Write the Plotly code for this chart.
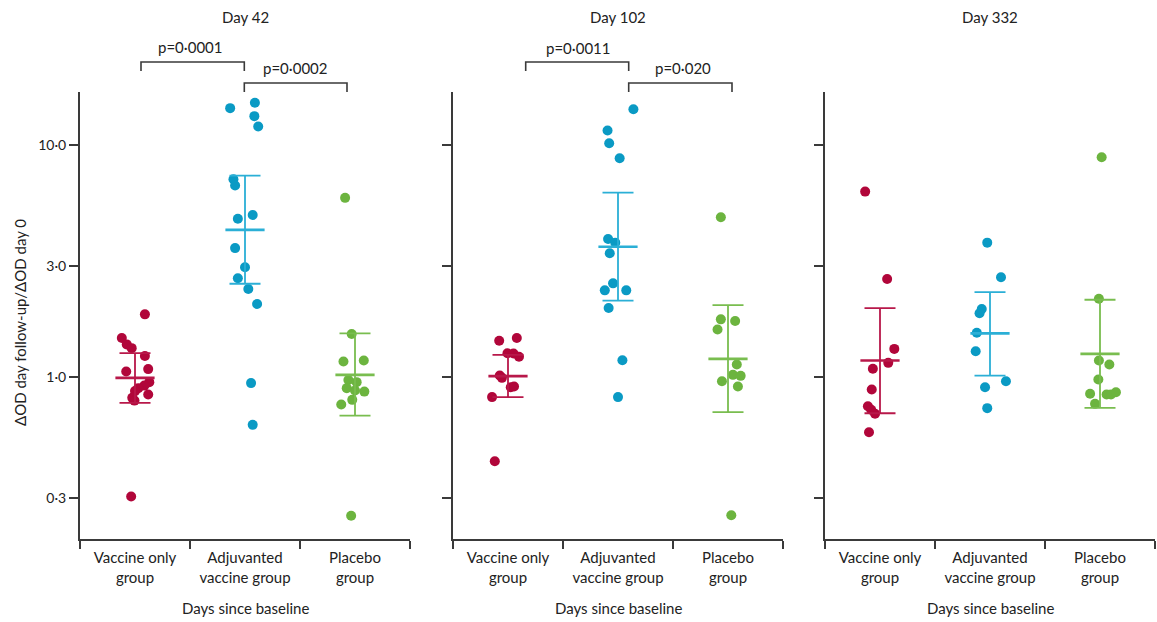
import math
import plotly.graph_objects as go

W, H = 1157, 622

categories = ["Vaccine only<br>group", "Adjuvanted<br>vaccine group", "Placebo<br>group"]
panel_titles = ["Day 42", "Day 102", "Day 332"]
y_tickvals = [0.3, 1.0, 3.0, 10.0]
y_ticktext = ["0·3", "1·0", "3·0", "10·0"]

# ---- Day 42 ----
d42_vaccine = [1.86, 1.47, 1.38, 1.33, 1.23, 1.054, 1.08, 0.949, 0.917, 0.894, 0.868, 0.839, 0.812, 0.79, 0.305]
d42_vaccine_jit = [0.09, -0.12, -0.075, -0.03, 0.09, -0.08, 0.12, 0.13, 0.085, 0.03, 0.0, 0.12, -0.025, -0.005, -0.035]
d42_adjuv = [14.4, 15.2, 13.3, 12.0, 7.11, 6.68, 4.99, 4.80, 3.59, 2.97, 2.66, 2.39, 2.06, 0.94, 0.621]
d42_adjuv_jit = [-0.135, 0.09, 0.085, 0.12, -0.105, -0.09, 0.07, -0.065, -0.09, 0.0, -0.065, 0.03, 0.11, 0.055, 0.07]
d42_placebo = [5.91, 1.53, 1.164, 1.176, 0.97, 0.949, 0.894, 0.873, 0.864, 0.796, 0.760, 0.252]
d42_placebo_jit = [-0.09, -0.03, -0.105, 0.08, -0.06, 0.015, -0.075, 0.0, 0.085, -0.025, -0.125, -0.035]
d42_mean = [0.99, 4.30, 1.02]
d42_low = [0.773, 2.52, 0.681]
d42_high = [1.265, 7.37, 1.54]

# ---- Day 102 ----
d102_vaccine = [1.43, 1.47, 1.265, 1.26, 1.22, 1.013, 0.99, 0.902, 0.908, 0.818, 0.433]
d102_vaccine_jit = [-0.08, 0.08, -0.005, 0.05, 0.10, -0.075, -0.055, 0.025, 0.055, -0.145, -0.12]
d102_adjuv = [14.25, 11.53, 10.17, 8.76, 3.93, 3.79, 3.41, 2.53, 2.36, 2.36, 1.98, 1.18, 0.818]
d102_adjuv_jit = [0.14, -0.095, -0.08, 0.015, -0.09, -0.025, -0.075, -0.045, -0.12, 0.075, -0.085, 0.04, 0.0]
d102_placebo = [4.88, 1.77, 1.74, 1.60, 1.13, 1.02, 1.01, 0.958, 0.908, 0.253]
d102_placebo_jit = [-0.065, -0.065, 0.065, -0.095, 0.08, 0.045, 0.115, -0.055, 0.09, 0.03]
d102_mean = [1.007, 3.64, 1.195]
d102_low = [0.818, 2.13, 0.704]
d102_high = [1.244, 6.23, 2.04]

# ---- Day 332 ----
d332_vaccine = [6.29, 2.64, 1.32, 1.149, 1.083, 0.882, 0.747, 0.721, 0.693, 0.577]
d332_vaccine_jit = [-0.135, 0.065, 0.13, 0.075, -0.065, -0.075, -0.11, -0.08, -0.045, -0.10]
d332_adjuv = [3.79, 2.69, 1.96, 1.88, 1.55, 1.29, 0.958, 0.902, 0.733]
d332_adjuv_jit = [-0.025, 0.10, -0.075, -0.095, -0.12, -0.13, 0.145, -0.045, -0.025]
d332_placebo = [8.85, 2.17, 1.176, 1.13, 0.974, 0.845, 0.839, 0.839, 0.859, 0.765]
d332_placebo_jit = [0.015, -0.01, -0.01, 0.085, -0.015, -0.09, 0.06, 0.10, 0.145, -0.045]
d332_mean = [1.176, 1.54, 1.256]
d332_low = [0.697, 1.013, 0.735]
d332_high = [1.98, 2.32, 2.15]

p_values = [["p=0·0001", "p=0·0002"], ["p=0·0011", "p=0·020"], []]

# ---- styling ----
FONT = "Lato"
TXT = "#222222"
AX = "#3a3a3a"
dot_colors = ["#b1063a", "#0a9ac4", "#6cb43f"]
bar_colors = ["#b8184a", "#2bafd6", "#79bd4f"]

panels = [
    ([d42_vaccine, d42_adjuv, d42_placebo], [d42_vaccine_jit, d42_adjuv_jit, d42_placebo_jit], d42_mean, d42_low, d42_high),
    ([d102_vaccine, d102_adjuv, d102_placebo], [d102_vaccine_jit, d102_adjuv_jit, d102_placebo_jit], d102_mean, d102_low, d102_high),
    ([d332_vaccine, d332_adjuv, d332_placebo], [d332_vaccine_jit, d332_adjuv_jit, d332_placebo_jit], d332_mean, d332_low, d332_high),
]

# pixel layout of the panels
x_px = [(80, 410), (453, 783), (825, 1155)]
y_px = (92, 539)

def px(xp):
    return xp / W

def py(yp):
    return 1 - yp / H

fig = go.Figure()

for p, (groups, jits, means, lows, highs) in enumerate(panels):
    sfx = "" if p == 0 else str(p + 1)
    xa, ya = "x" + sfx, "y" + sfx
    for g in range(3):
        fig.add_trace(go.Scatter(
            x=[g + 0.5 + j for j in jits[g]], y=groups[g], mode="markers",
            marker=dict(size=10, color=dot_colors[g], line=dict(width=0)),
            xaxis=xa, yaxis=ya, showlegend=False, hoverinfo="y"))
    for g in range(3):
        fig.add_trace(go.Scatter(
            x=[g + 0.5], y=[means[g]], mode="markers",
            marker=dict(symbol="line-ew", size=28, color=bar_colors[g],
                        line=dict(width=2.6, color=bar_colors[g])),
            error_y=dict(type="data", symmetric=False,
                         array=[highs[g] - means[g]], arrayminus=[means[g] - lows[g]],
                         color=bar_colors[g], thickness=1.8, width=15.5),
            xaxis=xa, yaxis=ya, showlegend=False, hoverinfo="y"))

    dom_x = [px(x_px[p][0]), px(x_px[p][1])]
    dom_y = [py(y_px[1]), py(y_px[0])]
    fig.layout["xaxis" + sfx] = dict(
        domain=dom_x, range=[0, 3], anchor=ya,
        showline=True, linecolor=AX, linewidth=2, showgrid=False, zeroline=False,
        tickmode="array", tickvals=[0.5, 1.5, 2.5], ticktext=categories,
        ticks="outside", ticklen=4, tickcolor="rgba(0,0,0,0)",
        tickfont=dict(family=FONT, size=15, color=TXT),
        minor=dict(tickmode="array", tickvals=[0, 1, 2, 3], ticks="outside",
                   ticklen=8, tickwidth=2, tickcolor=AX, showgrid=False),
        automargin=False, fixedrange=True)
    fig.layout["yaxis" + sfx] = dict(
        domain=dom_y, type="log", range=[math.log10(0.2), 1.228], anchor=xa,
        showline=True, linecolor=AX, linewidth=2, showgrid=False, zeroline=False,
        tickmode="array", tickvals=y_tickvals, ticktext=y_ticktext,
        ticks="outside", ticklen=9, tickwidth=2, tickcolor=AX,
        showticklabels=(p == 0),
        tickfont=dict(family=FONT, size=14, color=TXT),
        automargin=False, fixedrange=True)

annotations = []
title_x = [245, 618, 990]
for p in range(3):
    annotations.append(dict(text=panel_titles[p], x=px(title_x[p]), y=py(17), xref="paper", yref="paper",
                            showarrow=False, xanchor="center", yanchor="middle",
                            font=dict(family=FONT, size=15, color=TXT)))
    annotations.append(dict(text="Days since baseline", x=px(title_x[p]), y=py(608), xref="paper", yref="paper",
                            showarrow=False, xanchor="center", yanchor="middle",
                            font=dict(family=FONT, size=15, color=TXT)))

annotations.append(dict(text="ΔOD day follow-up/ΔOD day 0", x=px(20), y=py(323), xref="paper", yref="paper",
                        showarrow=False, textangle=-90, xanchor="center", yanchor="middle",
                        font=dict(family=FONT, size=15, color=TXT)))

# significance brackets (pixel geometry)
brackets = [
    [(141, 244.3, 62, 71, 190, 47), (244.3, 347, 83, 92, 295, 68)],
    [(525.7, 628.7, 62, 71, 578, 48), (628.7, 732, 83, 92, 683, 68)],
]
shapes = []
for p, blist in enumerate(brackets):
    for k, (x0, x1, yh, yt, tx, ty) in enumerate(blist):
        path = "M %f,%f L %f,%f L %f,%f L %f,%f" % (px(x0), py(yt), px(x0), py(yh), px(x1), py(yh), px(x1), py(yt))
        shapes.append(dict(type="path", path=path, xref="paper", yref="paper",
                           line=dict(color=AX, width=1.6)))
        annotations.append(dict(text=p_values[p][k], x=px(tx), y=py(ty), xref="paper", yref="paper",
                                showarrow=False, xanchor="center", yanchor="middle",
                                font=dict(family=FONT, size=15, color=TXT)))

fig.update_layout(
    width=W, height=H, margin=dict(l=0, r=0, t=0, b=0),
    paper_bgcolor="white", plot_bgcolor="white",
    annotations=annotations, shapes=shapes, showlegend=False,
    font=dict(family=FONT, color=TXT),
)

fig.write_html("out.html", config={"displayModeBar": False},
               post_script="document.body.style.margin='0';")
